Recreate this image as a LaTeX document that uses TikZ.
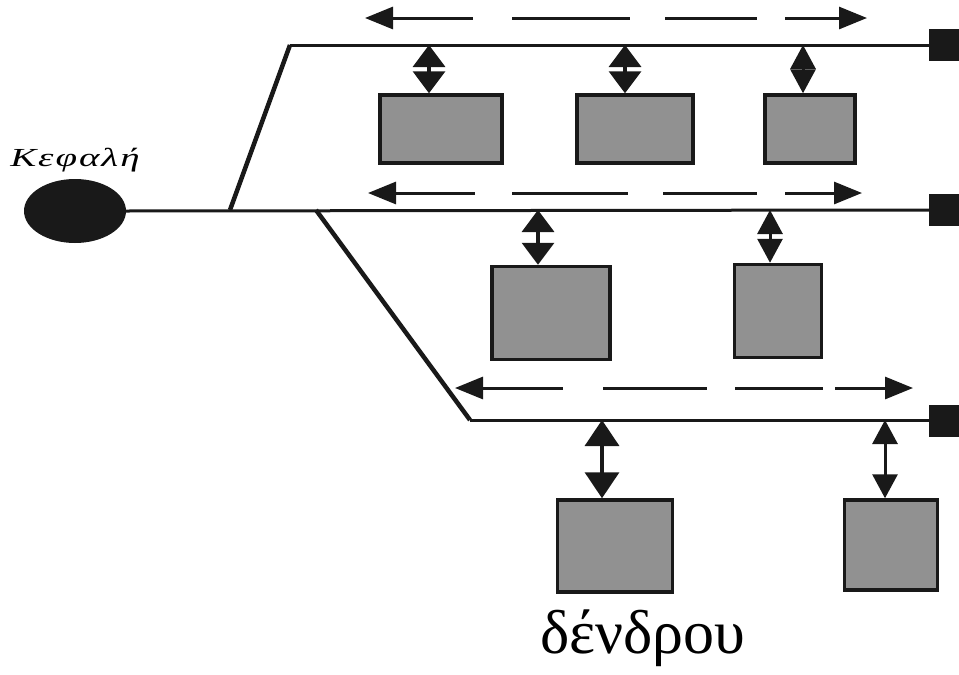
\documentclass[tikz,border=0pt]{standalone}
\usepackage{fontspec}
\setmainfont{Liberation Serif}
\newfontfamily\headlabelfont[LetterSpace=5]{Liberation Serif}
\usetikzlibrary{arrows.meta,shapes.geometric}
\definecolor{boxgray}{RGB}{145,145,145}
\definecolor{ink}{RGB}{25,25,25}
\begin{document}
\begin{tikzpicture}[x=1pt,y=-1pt,
  bus/.style={line width=3pt,draw=ink},
  branch/.style={line width=4.5pt,draw=ink},
  station/.style={draw=ink,line width=3.5pt,fill=boxgray,inner sep=0pt},
  term/.style={fill=ink,inner sep=0pt,minimum width=34pt,minimum height=32pt},
  linkbig/.style={line width=3.5pt,draw=ink,{Triangle[width=34pt,length=26pt]}-{Triangle[width=34pt,length=26pt]}},
  linksmall/.style={line width=3.5pt,draw=ink,{Triangle[width=32pt,length=22pt]}-{Triangle[width=32pt,length=22pt]}},
  linknarrow/.style={line width=3pt,draw=ink,{Triangle[width=25pt,length=24pt]}-{Triangle[width=25pt,length=24pt]}},
  flow/.style={line width=3pt,draw=ink},
  flowL/.style={flow,{Triangle[width=22pt,length=28pt]}-},
  flowR/.style={flow,-{Triangle[width=22pt,length=28pt]}}
]
\useasboundingbox (0,0) rectangle (959,675);

% head
\node[ellipse,fill=ink,minimum width=102pt,minimum height=64pt,inner sep=0pt] (head) at (75,211) {};
\node (hl) at (75,160) {\scalebox{1.5}[1]{\fontsize{26}{26}\headlabelfont\itshape Κεφαλή}};

% terminators
\node[term] (termT) at (946,45) {};
\node[term] (termM) at (946,210) {};
\node[term] (termB) at (946,421) {};

% bus lines
\coordinate (j1) at (230,210);
\coordinate (j2) at (316,210);
\coordinate (cT) at (290,45);
\coordinate (cB) at (470,420);
\draw[bus] (head.east) -- (termM.west);
\draw[branch] (j1) -- (cT);
\draw[bus] (cT) -- (termT.west);
\draw[branch] (j2) -- (cB);
\draw[bus] (cB) -- (termB.west |- cB);

% stations top
\node[station,minimum width=122pt,minimum height=68pt] (s1) at (441,129) {};
\node[station,minimum width=116pt,minimum height=68pt] (s2) at (635,129) {};
\node[station,minimum width=90pt,minimum height=68pt] (s3) at (810,129) {};
% stations middle
\node[station,minimum width=118pt,minimum height=93pt] (s4) at (551,313) {};
\node[station,minimum width=87pt,minimum height=93pt] (s5) at (778,311) {};
% stations bottom
\node[station,minimum width=115pt,minimum height=92pt] (s6) at (615,546) {};
\node[station,minimum width=93pt,minimum height=90pt] (s7) at (891,545) {};

% links
\coordinate (a1) at (429,45); \draw[linksmall] (a1) -- (a1 |- s1.north);
\coordinate (a2) at (625,45); \draw[linksmall] (a2) -- (a2 |- s2.north);
\coordinate (a3) at (803,45); \draw[linknarrow] (a3) -- (a3 |- s3.north);
\coordinate (a4) at (538,210); \draw[linksmall] (a4) -- (a4 |- s4.north);
\coordinate (a5) at (770,210); \draw[linknarrow] (a5) -- (a5 |- s5.north);
\coordinate (a6) at (602,420); \draw[linkbig] (a6) -- (a6 |- s6.north);
\coordinate (a7) at (885,420); \draw[linknarrow] (a7) -- (a7 |- s7.north);

% flow arrows (dashed)
\coordinate (fT0) at (365,18); \coordinate (fT1) at (473,18);
\coordinate (fT2) at (512,18); \coordinate (fT3) at (630,18);
\coordinate (fT4) at (665,18); \coordinate (fT5) at (757,18);
\coordinate (fT6) at (785,18); \coordinate (fT7) at (867,18);
\draw[flowL] (fT0) -- (fT1);
\draw[flow] (fT2) -- (fT3);
\draw[flow] (fT4) -- (fT5);
\draw[flowR] (fT6) -- (fT7);

\coordinate (fM0) at (368,193); \coordinate (fM1) at (475,193);
\coordinate (fM2) at (512,193); \coordinate (fM3) at (628,193);
\coordinate (fM4) at (663,193); \coordinate (fM5) at (757,193);
\coordinate (fM6) at (785,193); \coordinate (fM7) at (862,193);
\draw[flowL] (fM0) -- (fM1);
\draw[flow] (fM2) -- (fM3);
\draw[flow] (fM4) -- (fM5);
\draw[flowR] (fM6) -- (fM7);

\coordinate (fB0) at (455,388); \coordinate (fB1) at (563,388);
\coordinate (fB2) at (603,388); \coordinate (fB3) at (707,388);
\coordinate (fB4) at (735,388); \coordinate (fB5) at (823,388);
\coordinate (fB6) at (835,388); \coordinate (fB7) at (913,388);
\draw[flowL] (fB0) -- (fB1);
\draw[flow] (fB2) -- (fB3);
\draw[flow] (fB4) -- (fB5);
\draw[flowR] (fB6) -- (fB7);

% caption
\node (cap) at (643,638) {\fontsize{62}{62}\selectfont δένδρου};
\end{tikzpicture}
\end{document}
